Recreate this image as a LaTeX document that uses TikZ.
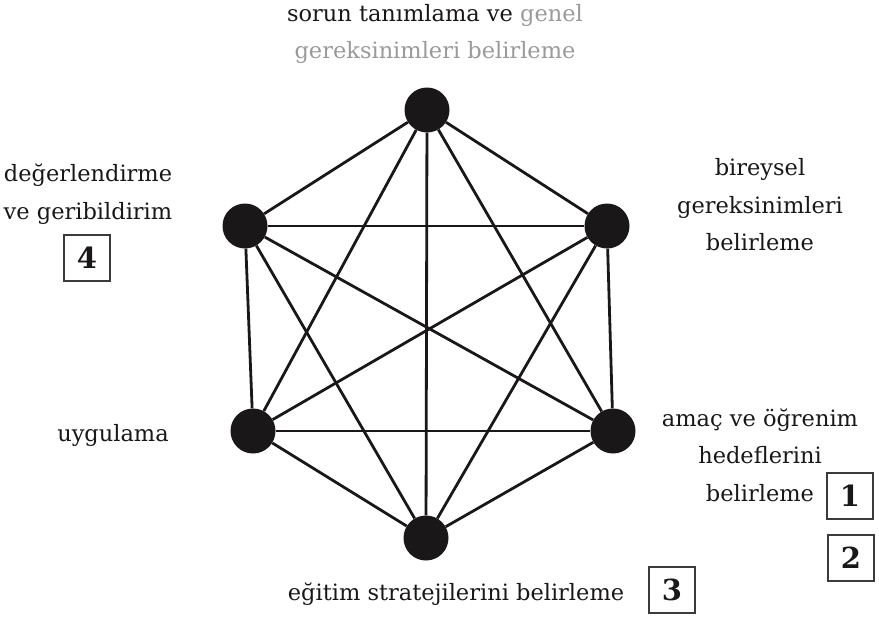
\documentclass[tikz,border=0pt]{standalone}
\usepackage{fontspec}
\setmainfont{DejaVu Serif}
\usepackage{tikz}
\usetikzlibrary{positioning}
\usepackage{xcolor}
\definecolor{cink}{HTML}{1A1718}
\definecolor{cgray}{HTML}{9A9A9A}

\begin{document}
\begin{tikzpicture}[
	x=1pt, y=-1pt,
	% Estilo para los puntos del hexagono
	dotnode/.style={
		circle,
		fill=cink,
		inner sep=0pt,
		minimum size=45pt
	},
	% Estilo para las lineas
	link/.style={
		draw=cink,
		line width=2.8pt
	},
	% Estilo para los textos
	steptext/.style={
		text=cink,
		align=center,
		inner sep=0pt,
		font=\fontsize{22.5}{37.5}\selectfont
	},
	% Estilo para las cajas numeradas
	numbox/.style={
		draw=cink!85,
		line width=1.3pt,
		minimum size=46pt,
		inner sep=0pt,
		text=cink,
		font=\fontsize{29}{30}\selectfont\bfseries
	}
	]
	
	\useasboundingbox (0,0) rectangle (879,622);
	
	% --- Puntos ---
	\node[dotnode] (top) at (427,110) {};
	\node[dotnode] (upleft) at (245,226) {};
	\node[dotnode] (upright) at (607,226) {};
	\node[dotnode] (lowleft) at (253,431) {};
	\node[dotnode] (lowright) at (613,431) {};
	\node[dotnode] (bottom) at (426,538) {};
	
	% --- Lineas entre todos los puntos ---
	\draw[link] (top) -- (upleft);
	\draw[link] (top) -- (upright);
	\draw[link] (top) -- (lowleft);
	\draw[link] (top) -- (lowright);
	\draw[link] (top) -- (bottom);
	\draw[link] (upleft) -- (upright);
	\draw[link] (upleft) -- (lowleft);
	\draw[link] (upleft) -- (lowright);
	\draw[link] (upleft) -- (bottom);
	\draw[link] (upright) -- (lowleft);
	\draw[link] (upright) -- (lowright);
	\draw[link] (upright) -- (bottom);
	\draw[link] (lowleft) -- (lowright);
	\draw[link] (lowleft) -- (bottom);
	\draw[link] (lowright) -- (bottom);
	
	% --- Textos ---
	\node[steptext] (ttop) at (435,34)
	{sorun tanımlama ve \textcolor{cgray}{genel}\\
		\textcolor{cgray}{gereksinimleri belirleme}};
	\node[steptext] (tupleft) at (88,194) {değerlendirme\\ve geribildirim};
	\node[steptext] (tupright) at (760,205) {bireysel\\gereksinimleri\\belirleme};
	\node[steptext] (tlowleft) at (113,435) {uygulama};
	\node[steptext] (tlowright) at (760,455) {amaç ve öğrenim\\hedeflerini\\belirleme};
	\node[steptext] (tbottom) at (456,594) {eğitim stratejilerini belirleme};
	
	% --- Cajas numeradas ---
	\node[numbox] (box1) at (850,496) {1};
	\node[numbox] (box2) at (851,558) {2};
	\node[numbox] (box3) at (672,590) {3};
	\node[numbox] (box4) at (87,258) {4};
	
\end{tikzpicture}
\end{document}
